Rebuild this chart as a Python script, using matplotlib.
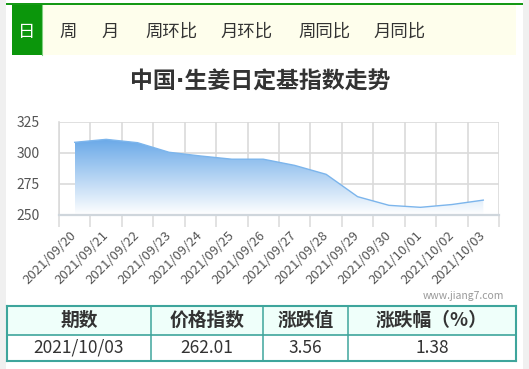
import numpy as np
import matplotlib
matplotlib.use("Agg")
import matplotlib.pyplot as plt
from matplotlib.patches import Rectangle, Polygon
from matplotlib.colors import LinearSegmentedColormap

plt.rcParams['font.family'] = ['Noto Sans CJK SC', 'DejaVu Sans']

# ---- data ----
dates = ["2021/09/20", "2021/09/21", "2021/09/22", "2021/09/23", "2021/09/24",
         "2021/09/25", "2021/09/26", "2021/09/27", "2021/09/28", "2021/09/29",
         "2021/09/30", "2021/10/01", "2021/10/02", "2021/10/03"]
values = [308.6, 311.0, 308.3, 300.6, 297.6, 295.0, 295.0, 290.0, 282.8,
          264.8, 257.8, 256.2, 258.45, 262.01]
yticks = [250, 275, 300, 325]
tabs = ["日", "周", "月", "周环比", "月环比", "周同比", "月同比"]
tab_x = [27, 68, 110, 171, 247, 324, 400]
title = "中国·生姜日定基指数走势"
table_header = ["期数", "价格指数", "涨跌值", "涨跌幅（%）"]
table_row = ["2021/10/03", "262.01", "3.56", "1.38"]
col_edges = [7, 151, 263, 348, 516]

W, H = 529, 369
fig = plt.figure(figsize=(W / 100, H / 100), dpi=100)
fig.patch.set_facecolor("white")

# background pixel-space axes
bg = fig.add_axes([0, 0, 1, 1])
bg.set_xlim(0, W)
bg.set_ylim(H, 0)
bg.axis("off")

bg.add_patch(Rectangle((0, 0), 5.5, H, color="#f0f0f0", lw=0))
bg.add_patch(Rectangle((523, 0), W - 523, H, color="#f0f0f0", lw=0))
# tab bar
bg.add_patch(Rectangle((42, 5), 474, 50, color="#fefeec", lw=0))
bg.add_patch(Rectangle((6, 3), 517, 2.2, color="#159915", lw=0))
bg.add_patch(Rectangle((12, 5), 30, 50, color="#0b960b", lw=0))
bg.plot([42, 42], [5, 55], color="#7fcf7f", lw=0.8)
for i, (t, x) in enumerate(zip(tabs, tab_x)):
    bg.text(x, 31.5, t, ha="center", va="center", fontsize=12.5,
            color="white" if i == 0 else "#333333")

bg.text(260, 82, title, ha="center", va="center", fontsize=16.5,
        fontweight="bold", color="#333333",
        family=["DejaVu Sans", "Noto Sans CJK SC"])

bg.text(504, 296, "www.jiang7.com", ha="right", va="center", fontsize=7.5,
        color="#999999")

# table
teal = "#3ea59c"
bg.add_patch(Rectangle((7, 306), 509, 29, color="#effffa", lw=0))
for i in range(4):
    cx = (col_edges[i] + col_edges[i + 1]) / 2
    bg.text(cx, 320.5, table_header[i], ha="center", va="center",
            fontsize=13.5, fontweight="bold", color="#333333")
    bg.text(cx, 348, table_row[i], ha="center", va="center",
            fontsize=12.5, color="#333333")
for y in [306, 335, 361]:
    bg.plot([7, 516], [y, y], color=teal, lw=1.2 if y == 335 else 1.5,
            solid_capstyle="projecting")
for x in col_edges:
    bg.plot([x, x], [306, 361], color=teal,
            lw=1.5 if x in (7, 516) else 1.1, solid_capstyle="projecting")

# chart axes
x0, x1, yt, yb = 59, 499, 122, 215
ax = fig.add_axes([x0 / W, 1 - yb / H, (x1 - x0) / W, (yb - yt) / H])
ax.set_facecolor("none")
n = len(values)
xs = np.arange(n)
ax.set_xlim(-0.5, n - 0.5)
ax.set_ylim(250, 325)

grid_c = "#dadada"
ax.set_yticks(yticks)
ax.set_yticklabels([str(v) for v in yticks])
ax.set_xticks(np.arange(n + 1) - 0.5)
ax.set_xticklabels([])
ax.set_xticks(xs, minor=True)
ax.set_xticklabels(dates, minor=True, rotation=45, ha="right", va="center",
                   rotation_mode="anchor")
ax.tick_params(axis="x", which="major", length=8.5, width=1.1, color=grid_c)
ax.tick_params(axis="x", which="minor", length=0, pad=13, labelsize=9.5,
               labelcolor="#555555")
ax.tick_params(axis="y", length=0, pad=14, labelsize=10, labelcolor="#555555")
ax.grid(True, which="major", color=grid_c, lw=1.2)
ax.set_axisbelow(True)
for s in ["top", "right"]:
    ax.spines[s].set_visible(False)
ax.spines["left"].set_color(grid_c)
ax.spines["left"].set_linewidth(1.2)
ax.spines["bottom"].set_color("#cfd6dc")
ax.spines["bottom"].set_linewidth(1.6)

# gradient fill
cmap = LinearSegmentedColormap.from_list("g", ["#ffffff", "#6aa9e8"])
top = max(values)
grad = np.linspace(0, 1, 256).reshape(-1, 1)
im = ax.imshow(grad, extent=[xs[0], xs[-1], 250, top], origin="lower",
               aspect="auto", cmap=cmap, zorder=2)
poly = Polygon(np.column_stack([np.r_[xs, xs[-1], xs[0]],
                                np.r_[values, 250, 250]]),
               closed=True, transform=ax.transData, facecolor="none",
               edgecolor="none")
ax.add_patch(poly)
im.set_clip_path(poly)
ax.plot(xs, values, color="#7cb5ec", lw=1.0, zorder=3)

fig.savefig("out.png", dpi=100)
